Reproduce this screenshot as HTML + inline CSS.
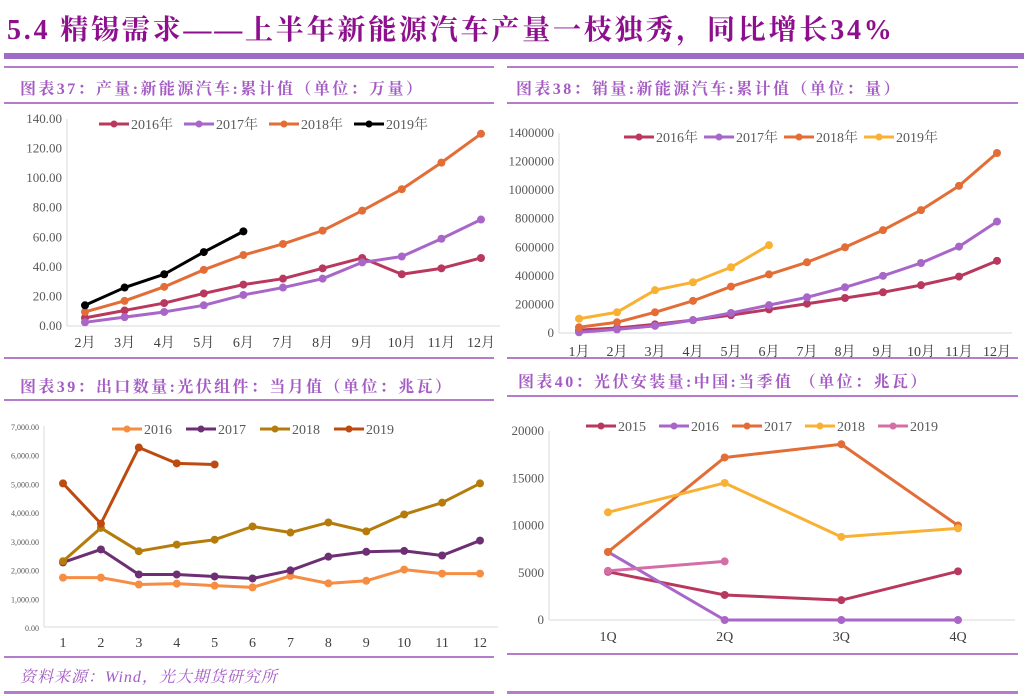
<!DOCTYPE html>
<html><head><meta charset="utf-8">
<style>
body{margin:0;background:#fff;}
#wrap{position:relative;width:1029px;height:696px;overflow:hidden;font-family:"Liberation Serif","Noto Serif CJK SC",serif;}
.t{position:absolute;color:#A45BC4;font-weight:bold;font-size:16px;white-space:nowrap;letter-spacing:2.4px;}
.ln{position:absolute;background:#B47CCB;height:2px;}
</style></head><body>
<div id="wrap">
<div style="position:absolute;left:7px;top:8px;font-size:28px;font-weight:bold;color:#8E0F8E;white-space:nowrap;letter-spacing:2.8px">5.4 精锡需求——上半年新能源汽车产量一枝独秀，同比增长34%</div>
<div style="position:absolute;left:4px;top:53px;width:1020px;height:6px;background:#9E6BC6"></div>
<div class="ln" style="left:4px;top:66px;width:490px"></div>
<div class="ln" style="left:507px;top:66px;width:511px"></div>
<div class="t" style="left:20px;top:76px">图表37：产量:新能源汽车:累计值（单位：万量）</div>
<div class="t" style="left:516px;top:76px">图表38：销量:新能源汽车:累计值（单位：量）</div>
<div class="ln" style="left:4px;top:102px;width:490px"></div>
<div class="ln" style="left:507px;top:102px;width:511px"></div>
<div class="ln" style="left:4px;top:357px;width:490px"></div>
<div class="ln" style="left:507px;top:357px;width:511px"></div>
<div class="t" style="left:20px;top:374px">图表39：出口数量:光伏组件：当月值（单位：兆瓦）</div>
<div class="t" style="left:518px;top:369px">图表40：光伏安装量:中国:当季值 （单位：兆瓦）</div>
<div class="ln" style="left:4px;top:399px;width:490px"></div>
<div class="ln" style="left:507px;top:395px;width:511px"></div>
<div class="ln" style="left:4px;top:656px;width:490px"></div>
<div class="ln" style="left:507px;top:653px;width:511px"></div>
<div style="position:absolute;left:20px;top:664px;font-size:16px;font-style:italic;color:#A45BC4;white-space:nowrap;letter-spacing:1px">资料来源：Wind，光大期货研究所</div>
<div class="ln" style="left:4px;top:691px;width:490px;height:3px"></div>
<div class="ln" style="left:507px;top:691px;width:511px;height:3px"></div>
<svg id="svg" width="1029" height="696" style="position:absolute;left:0;top:0"></svg>
</div>
<script>
// Chart 37 data
const c1Cats=["2月","3月","4月","5月","6月","7月","8月","9月","10月","11月","12月"];
const c1Ticks=["0.00","20.00","40.00","60.00","80.00","100.00","120.00","140.00"];
const c1Names=["2016年","2017年","2018年","2019年"];
const c1s2016=[5.5,10.5,15.5,22,28,32,39,46,35,39,46];
const c1s2017=[2.5,6,9.5,14,21,26,32,43,47,59,72];
const c1s2018=[9.5,17,26.5,38,48,55.5,64.5,78,92.5,110.5,130];
const c1s2019=[14,26,35,50,64];
// Chart 38 data
const c2Cats=["1月","2月","3月","4月","5月","6月","7月","8月","9月","10月","11月","12月"];
const c2Ticks=["0","200000","400000","600000","800000","1000000","1200000","1400000"];
const c2Names=["2016年","2017年","2018年","2019年"];
const c2s2016=[20000,35000,60000,90000,125000,165000,205000,245000,285000,335000,395000,505000];
const c2s2017=[5000,25000,50000,90000,140000,195000,250000,320000,400000,490000,605000,780000];
const c2s2018=[40000,75000,145000,225000,325000,410000,495000,600000,720000,860000,1030000,1260000];
const c2s2019=[100000,145000,300000,355000,460000,615000];
// Chart 39 data
const c3Cats=["1","2","3","4","5","6","7","8","9","10","11","12"];
const c3Ticks=["0.00","1,000.00","2,000.00","3,000.00","4,000.00","5,000.00","6,000.00","7,000.00"];
const c3Names=["2016","2017","2018","2019"];
const c3s2016=[1720,1720,1480,1510,1440,1380,1780,1520,1610,2000,1860,1860];
const c3s2017=[2250,2700,1830,1830,1760,1690,1970,2450,2620,2650,2490,3010];
const c3s2018=[2290,3450,2640,2870,3040,3500,3290,3640,3330,3920,4330,5000];
const c3s2019=[5000,3600,6250,5700,5660];
// Chart 40 data
const c4Cats=["1Q","2Q","3Q","4Q"];
const c4Ticks=["0","5000","10000","15000","20000"];
const c4Names=["2015","2016","2017","2018","2019"];
const c4s2015=[5100,2650,2100,5150];
const c4s2016=[7200,0,0,0];
const c4s2017=[7200,17200,18600,10000];
const c4s2018=[11400,14500,8800,9700];
const c4s2019=[5200,6200];

const svg=document.getElementById('svg');
const NS='http://www.w3.org/2000/svg';
function mk(tag,attrs,parent){const e=document.createElementNS(NS,tag);for(const k in attrs)e.setAttribute(k,attrs[k]);(parent||svg).appendChild(e);return e;}

function chart(cfg){
  const g=mk('g',{});
  
  
  const ymax=parseFloat(cfg.ticks[cfg.ticks.length-1].replace(/,/g,''));
  const Y=v=>cfg.y0-(v/ymax)*(cfg.y0-cfg.y1);
  const X=i=>cfg.x0+i*(cfg.x1-cfg.x0)/(cfg.cats.length-1);
  const axL=mk('line',{x1:cfg.ax,y1:cfg.y1,x2:cfg.ax,y2:cfg.y0,stroke:'#d9d9d9','stroke-width':1},g);
  
  
  const axB=mk('line',{x1:cfg.ax,y1:cfg.y0,x2:cfg.axr,y2:cfg.y0,stroke:'#d9d9d9','stroke-width':1},g);
  
  
  cfg.ticks.forEach(t=>{
    const v=parseFloat(t.replace(/,/g,''));
    const tx=mk('text',{x:cfg.ax-5,y:Y(v)+4,'text-anchor':'end','font-size':cfg.tfs,fill:'#595959'},g);
    tx.textContent=t;
    
    
  });
  cfg.cats.forEach((c,i)=>{
    const tx=mk('text',{x:X(i),y:cfg.xl,'text-anchor':'middle','font-size':cfg.xfs,fill:'#404040'},g);
    tx.textContent=c;
    
    
  });
  cfg.series.forEach((s,si)=>{
    const pts=s.map((v,i)=>X(i)+','+Y(v)).join(' ');
    const pl=mk('polyline',{points:pts,fill:'none',stroke:cfg.colors[si],'stroke-width':3,'stroke-linejoin':'round'},g);
    
    
    s.forEach((v,i)=>{
      const c=mk('circle',{cx:X(i),cy:Y(v),r:4,fill:cfg.colors[si]},g);
      
      
    });
    const lx=cfg.lx+si*cfg.lstep;
    const ll=mk('line',{x1:lx,y1:cfg.ly,x2:lx+30,y2:cfg.ly,stroke:cfg.colors[si],'stroke-width':3},g);
    
    
    const lc=mk('circle',{cx:lx+15,cy:cfg.ly,r:3.5,fill:cfg.colors[si]},g);
    
    
    const lt=mk('text',{x:lx+32,y:cfg.ly+5,'font-size':cfg.lfs,fill:'#595959'},g);
    lt.textContent=cfg.names[si];
    
    
  });
}
chart({name:'chart37',cats:c1Cats,ticks:c1Ticks,names:c1Names,series:[c1s2016,c1s2017,c1s2018,c1s2019],
  colors:['#B9385E','#A866C8','#E36D36','#000000'],x0:85,x1:481,ax:67,axr:500,y0:326,y1:119,xl:347,
  tfs:13,xfs:14,lfs:14,lx:99,lstep:85,ly:124});
chart({name:'chart38',cats:c2Cats,ticks:c2Ticks,names:c2Names,series:[c2s2016,c2s2017,c2s2018,c2s2019],
  colors:['#B9385E','#A866C8','#E36D36','#F8B133'],x0:579,x1:997,ax:559,axr:1012,y0:333,y1:133,xl:356,
  tfs:13,xfs:14,lfs:14,lx:624,lstep:80,ly:137});
chart({name:'chart39',cats:c3Cats,ticks:c3Ticks,names:c3Names,series:[c3s2016,c3s2017,c3s2018,c3s2019],
  colors:['#F58D42','#6E2E74','#B57C0B','#BD4A0E'],x0:63,x1:480,ax:44,axr:498,y0:627,y1:426,xl:647,
  tfs:8,xfs:14,lfs:14,lx:112,lstep:74,ly:429});
chart({name:'chart40',cats:c4Cats,ticks:c4Ticks,names:c4Names,series:[c4s2015,c4s2016,c4s2017,c4s2018,c4s2019],
  colors:['#B9385E','#A866C8','#E36D36','#F8B133','#D56DA6'],x0:608,x1:958,ax:549,axr:1015,y0:620,y1:431,xl:641,
  tfs:13,xfs:14,lfs:14,lx:586,lstep:73,ly:426});
</script>
</body></html>
